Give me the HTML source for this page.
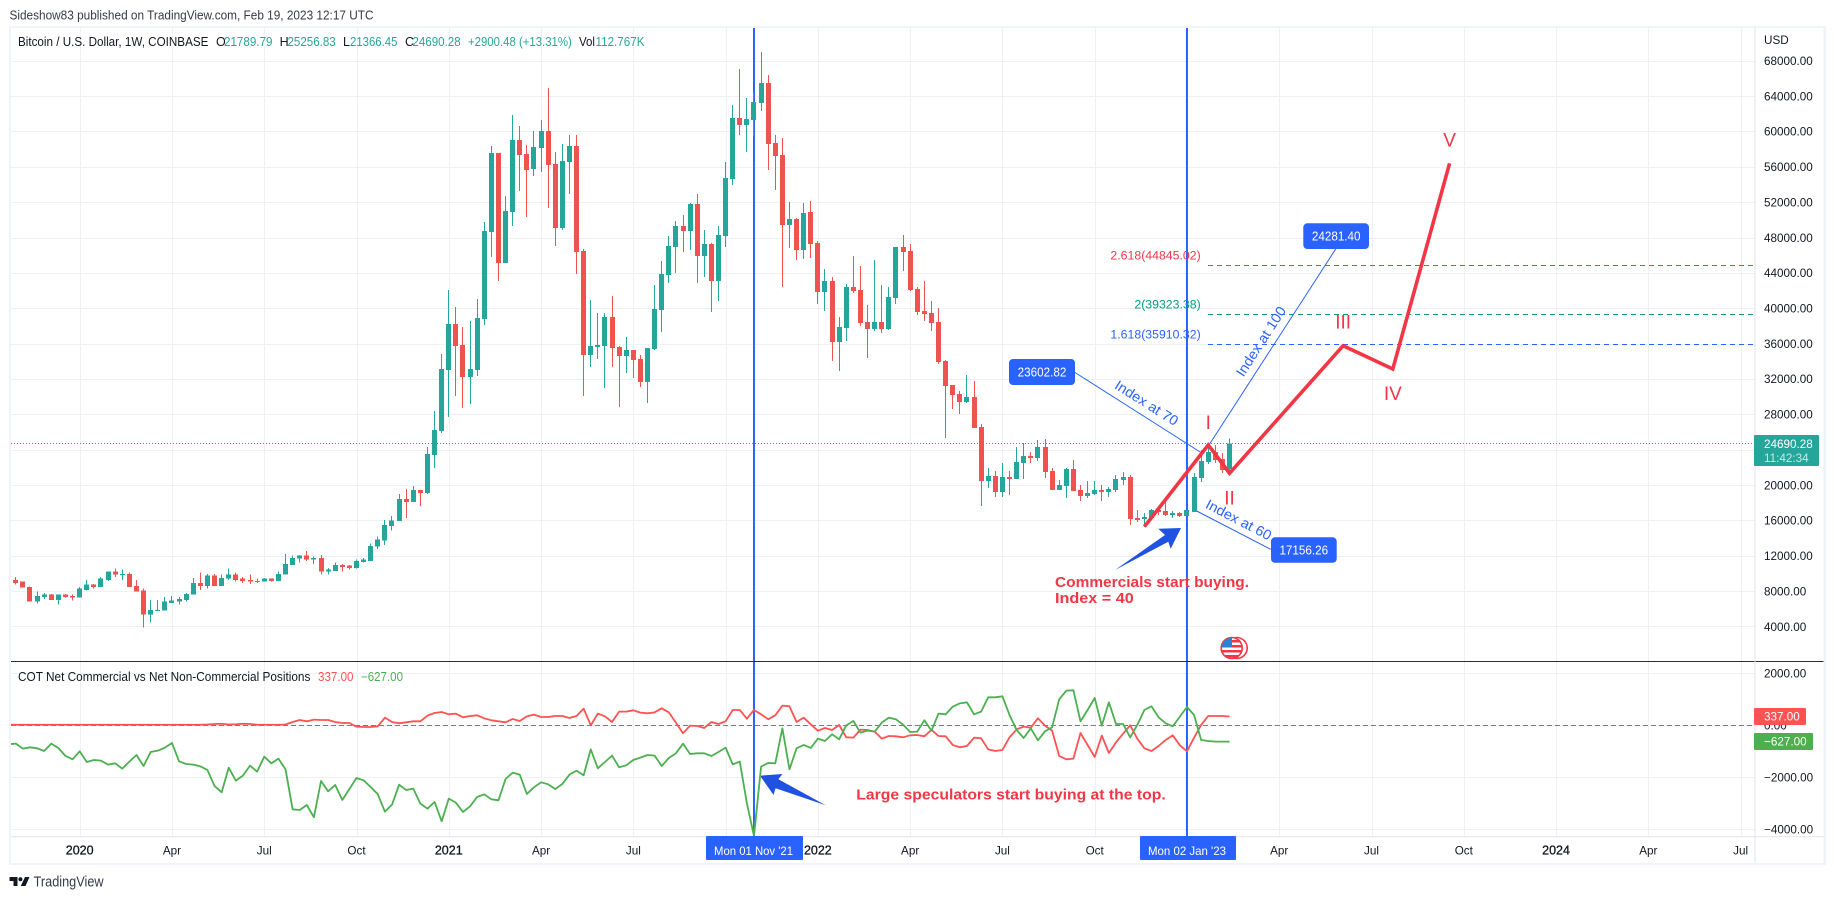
<!DOCTYPE html>
<html lang="en">
<head>
<meta charset="utf-8">
<title>Bitcoin / U.S. Dollar weekly chart</title>
<style>
html,body{margin:0;padding:0;background:#fff;}
svg{display:block;}
text{font-family:"Liberation Sans",sans-serif;}
</style>
</head>
<body>
<svg id="chart" xmlns="http://www.w3.org/2000/svg" width="1834" height="899" viewBox="0 0 1834 899">
  <defs>
    <clipPath id="priceClip"><rect x="11" y="28" width="1744" height="633"/></clipPath>
    <clipPath id="lowerClip"><rect x="11" y="662" width="1744" height="174.5"/></clipPath>
    <clipPath id="flagClip"><circle cx="1231.7" cy="648" r="10.2"/></clipPath>
  </defs>
  <text x="9.5" y="19.5" font-size="13" fill="#363a45" textLength="364" lengthAdjust="spacingAndGlyphs">Sideshow83 published on TradingView.com, Feb 19, 2023 12:17 UTC</text>
  <rect x="9" y="26" width="1817" height="839" fill="#f0f3fa"/>
  <rect x="11" y="28" width="1812.5" height="835" fill="#ffffff"/>
  <g id="grid"></g>
  <line id="lastPriceLine" x1="11" x2="1755" stroke="#26a69a" stroke-width="1" stroke-dasharray="1 2"/>
  <line x1="11" x2="1755" y1="725.5" y2="725.5" stroke="#787b86" stroke-width="1" stroke-dasharray="5 3"/>
  <g id="vlines"></g>
  <g id="candles" clip-path="url(#priceClip)"></g>
  <g id="fibs"></g>

  <line x1="1075" y1="372.5" x2="1201.7" y2="453" stroke="#2962ff" stroke-width="1"/>
  <line x1="1335.7" y1="249" x2="1209" y2="445" stroke="#2962ff" stroke-width="1"/>
  <line x1="1270.7" y1="549.3" x2="1196.7" y2="511" stroke="#2962ff" stroke-width="1"/>
  <text transform="translate(1144 407) rotate(32.3)" text-anchor="middle" font-size="14" fill="#2962ff" textLength="72" lengthAdjust="spacingAndGlyphs">Index at 70</text>
  <text transform="translate(1265 344) rotate(-57.2)" text-anchor="middle" font-size="14" fill="#2962ff" textLength="80" lengthAdjust="spacingAndGlyphs">Index at 100</text>
  <text transform="translate(1236.5 524) rotate(27.4)" text-anchor="middle" font-size="14" fill="#2962ff" textLength="72" lengthAdjust="spacingAndGlyphs">Index at 60</text>

  <g>
    <rect x="1009" y="359" width="66" height="26" rx="4" fill="#2962ff"/>
    <text x="1042" y="376.5" text-anchor="middle" font-size="12.5" fill="#fff" textLength="48.7" lengthAdjust="spacingAndGlyphs">23602.82</text>
  </g>
  <g>
    <rect x="1303.3" y="223.3" width="65.7" height="25.7" rx="4" fill="#2962ff"/>
    <text x="1336.2" y="240.5" text-anchor="middle" font-size="12.5" fill="#fff" textLength="48.7" lengthAdjust="spacingAndGlyphs">24281.40</text>
  </g>
  <g>
    <rect x="1271" y="537.3" width="65.7" height="25.5" rx="4" fill="#2962ff"/>
    <text x="1303.8" y="554.5" text-anchor="middle" font-size="12.5" fill="#fff" textLength="48.7" lengthAdjust="spacingAndGlyphs">17156.26</text>
  </g>

  <polygon points="1115,570 1165,535 1158.3,528.7 1181,528 1170.7,548.7 1168.3,541.7" fill="#1f52e0"/>
  <polygon points="760,775.7 782.4,774 778.4,779.3 825.7,805.3 775.5,788.3 773.5,795" fill="#1f52e0"/>

  <polyline id="waveLine" fill="none" stroke="#f23645" stroke-width="3.6" stroke-linejoin="miter"/>
  <g id="waveLabels"></g>

  <text x="1055" y="587" font-size="14.5" font-weight="bold" fill="#f23645" textLength="194" lengthAdjust="spacingAndGlyphs">Commercials start buying.</text>
  <text x="1055" y="603" font-size="14.5" font-weight="bold" fill="#f23645" textLength="78.7" lengthAdjust="spacingAndGlyphs">Index = 40</text>
  <text x="856.3" y="799.5" font-size="14.5" font-weight="bold" fill="#f23645" textLength="309.4" lengthAdjust="spacingAndGlyphs">Large speculators start buying at the top.</text>

  <g>
    <circle cx="1236.7" cy="648" r="10.5" fill="#fff" stroke="#f23645" stroke-width="1.6"/>
    <circle cx="1231.7" cy="648" r="10.5" fill="#fff" stroke="#f23645" stroke-width="1.6"/>
    <g clip-path="url(#flagClip)">
      <rect x="1221" y="640" width="22" height="2.5" fill="#f23645"/>
      <rect x="1221" y="645" width="22" height="2.5" fill="#f23645"/>
      <rect x="1221" y="650" width="22" height="2.5" fill="#f23645"/>
      <rect x="1221" y="655" width="22" height="2.5" fill="#f23645"/>
      <rect x="1221" y="637" width="11" height="10" fill="#2f7fd8"/>
    </g>
  </g>

  <g id="lowerSeries" clip-path="url(#lowerClip)"></g>

  <line x1="11" x2="1823.5" y1="661.5" y2="661.5" stroke="#2a2e39" stroke-width="1"/>
  <line x1="1755" x2="1755" y1="28" y2="863" stroke="#e0e3eb" stroke-width="1"/>
  <line x1="11" x2="1823.5" y1="836.8" y2="836.8" stroke="#e0e3eb" stroke-width="1"/>

  <g id="axes"></g>

  <text x="1764" y="44" font-size="11.7" fill="#131722">USD</text>

  <g>
    <rect x="1754" y="435" width="65" height="31" rx="1" fill="#26a69a"/>
    <text x="1764" y="448" font-size="11.7" fill="#fff">24690.28</text>
    <text x="1764" y="462" font-size="11.7" fill="#fff" fill-opacity="0.75">11:42:34</text>
  </g>
  <g>
    <rect x="1754" y="708" width="52" height="17" rx="1" fill="#ff5252"/>
    <text x="1764" y="720.7" font-size="11.7" fill="#fff">337.00</text>
  </g>
  <g>
    <rect x="1754" y="733" width="59" height="17" rx="1" fill="#4caf50"/>
    <text x="1764" y="745.7" font-size="11.7" fill="#fff">−627.00</text>
  </g>

  <g>
    <rect x="706" y="836" width="97" height="24" rx="1" fill="#2962ff"/>
    <text x="714" y="855" font-size="12" fill="#fff" textLength="79" lengthAdjust="spacingAndGlyphs">Mon 01 Nov '21</text>
  </g>
  <g>
    <rect x="1140" y="836" width="96" height="24" rx="1" fill="#2962ff"/>
    <text x="1148" y="855" font-size="12" fill="#fff" textLength="78" lengthAdjust="spacingAndGlyphs">Mon 02 Jan '23</text>
  </g>

  <g font-size="12.5">
    <text x="18" y="46" fill="#131722" textLength="190.4" lengthAdjust="spacingAndGlyphs">Bitcoin / U.S. Dollar, 1W, COINBASE</text>
    <text x="216" y="46" fill="#131722">O</text>
    <text x="224" y="46" fill="#26a69a" textLength="48.5" lengthAdjust="spacingAndGlyphs">21789.79</text>
    <text x="279.6" y="46" fill="#131722">H</text>
    <text x="287.5" y="46" fill="#26a69a" textLength="48.2" lengthAdjust="spacingAndGlyphs">25256.83</text>
    <text x="343" y="46" fill="#131722">L</text>
    <text x="350" y="46" fill="#26a69a" textLength="47.4" lengthAdjust="spacingAndGlyphs">21366.45</text>
    <text x="405" y="46" fill="#131722">C</text>
    <text x="412.4" y="46" fill="#26a69a" textLength="48.3" lengthAdjust="spacingAndGlyphs">24690.28</text>
    <text x="468" y="46" fill="#26a69a" textLength="103.8" lengthAdjust="spacingAndGlyphs">+2900.48 (+13.31%)</text>
    <text x="579" y="46" fill="#131722" textLength="16" lengthAdjust="spacingAndGlyphs">Vol</text>
    <text x="595.5" y="46" fill="#26a69a" textLength="49" lengthAdjust="spacingAndGlyphs">112.767K</text>
  </g>

  <g font-size="12.5">
    <text x="18" y="681" fill="#131722" textLength="292.4" lengthAdjust="spacingAndGlyphs">COT Net Commercial vs Net Non-Commercial Positions</text>
    <text x="318" y="681" fill="#ff5252" textLength="35.5" lengthAdjust="spacingAndGlyphs">337.00</text>
    <text x="361" y="681" fill="#4caf50" textLength="42" lengthAdjust="spacingAndGlyphs">−627.00</text>
  </g>

  <g>
    <polygon points="9.5,877 17.5,877 17.5,886 13.5,886 13.5,881 9.5,881" fill="#131722"/>
    <circle cx="20.4" cy="879.2" r="2" fill="#131722"/>
    <polygon points="25,877 29.5,877 25.5,886 20.8,886" fill="#131722"/>
    <text x="33.6" y="886.5" font-size="14.5" fill="#363a45" textLength="70" lengthAdjust="spacingAndGlyphs">TradingView</text>
  </g>
</svg>
<script>
// ---- Chart data ----
const firstBarDate = '2019-10-28';

const opens = [9620,
  9280,9060,8490,6800,7360,7590,7020,7590,7470,7250,
  8150,8720,8490,9280,10190,9850,9960,8600,8040,5330,
  5780,5780,6680,6800,7020,7590,8940,8600,9740,8600,
  9400,9850,9400,9280,9170,9060,9400,9170,9850,10980,
  11660,12000,11550,11770,10190,10300,10980,10870,10640,11320,
  11430,13020,13700,15390,15930,18420,18080,19440,19100,23400,
  26110,33010,38210,35840,32220,33010,38780,48620,57560,45110,
  50880,59030,57450,55750,58120,60050,56310,49070,56540,58350,
  46470,34710,35610,35720,39000,35610,34590,35270,34250,31650,
  35380,39800,43760,46920,49300,48730,51790,45910,47260,43080,
  48170,54620,61520,60730,61290,63210,65480,58690,57330,49410,
  50090,46580,50880,47380,41830,43080,36180,37760,42400,42060,
  38440,37650,38440,37650,41160,46930,46470,42170,39690,39460,
  38440,34030,31320,30300,29390,29960,26560,20450,21020,19210,
  20910,20680,22490,23280,23060,24300,21590,19440,19890,21810,
  19440,18760,18980,19440,19210,19440,20570,20910,16270,16160,
  16270,17180,17060,16610,16840,16500,16950,20790,22600,23740,
  22940,21789.79];

const highs = [9620,
  9620,9100,8540,7930,7810,7700,7590,7700,7590,8490,
  9280,8830,9620,10190,10530,10420,10080,9280,8270,7020,
  7020,7360,7470,7360,7810,9510,10080,9960,9960,9850,
  10530,10080,9620,9850,9400,9510,9400,10190,12220,12000,
  12110,12560,11890,12110,10640,11210,11090,10980,11550,11770,
  13360,14150,16070,16520,18980,19550,19890,19440,24300,28370,
  34820,42060,40140,37870,38550,41040,49750,58350,57560,52690,
  61860,60610,58460,60050,61290,64910,57670,58580,59590,59590,
  46700,40930,39460,39460,41380,35720,36740,35270,34710,35500,
  42630,45340,48170,49870,50540,51900,52920,48850,47380,49300,
  56540,62990,67060,63780,64350,68980,66380,59590,59250,52010,
  50200,51900,52130,47600,44430,43530,39010,42740,45910,44780,
  40360,45460,42630,42400,46930,48280,47270,42400,43080,40820,
  40030,34140,31320,30640,32450,31770,26900,21930,21590,22490,
  21590,24300,24750,23740,25090,25210,21930,20570,21930,22830,
  20000,20450,20450,20000,19780,21130,21470,21130,17180,16840,
  17290,17500,18190,17060,16950,17180,21360,23960,24640,24530,
  23620,25256.83];

const lows = [9170,
  8720,8380,6800,6570,7130,7020,6460,7250,6910,7250,
  8040,8270,8490,9170,9620,9280,8490,7930,3860,4420,
  5780,5780,6680,6460,6800,7590,8150,8270,8600,8600,
  9280,9060,8940,8830,8940,9060,9060,9170,9850,10980,
  11210,11430,11090,9850,9850,10300,10190,10420,10530,11210,
  11430,12790,13240,14830,15930,16270,18080,17630,18980,21920,
  25880,27690,30070,28710,29160,32330,38100,45790,43080,45110,
  49300,53260,50320,54960,55410,51340,47040,48850,52920,43870,
  30070,33350,34250,30970,33350,28820,32670,32100,31090,29280,
  35270,37310,42850,43980,46360,46580,42850,43530,39570,40820,
  46920,53940,59590,57670,59480,62310,55630,53370,42400,46810,
  45450,45570,45680,40480,39680,34030,32900,36290,41720,38010,
  34370,37420,37200,37540,40480,44210,41950,39230,38550,37420,
  33690,25320,28600,28030,29280,26450,17630,19660,18650,18650,
  18870,20680,20680,22490,22720,20790,19440,19440,18530,19320,
  18190,18530,18870,18190,18650,19210,20000,15480,15820,15250,
  16270,16600,16500,16270,16380,16500,16950,20340,22380,22490,
  21360,21366.45];

const closes = [9170,
  8940,8380,6800,7470,7590,7020,7590,7360,7250,8270,
  8720,8490,9400,10190,9850,9960,8490,7930,5330,5890,
  5890,6800,6910,7130,7700,8940,8600,9740,8600,9510,
  9850,9280,9170,9060,9060,9400,9170,9960,11090,11770,
  12000,11550,11770,10190,10420,10980,10750,10640,11430,11550,
  13130,13810,15500,15960,18420,18080,19440,19100,23510,26220,
  33120,38210,35720,32220,33120,38890,48730,57560,45110,51000,
  59030,57330,55640,58240,60050,56200,49070,56650,58350,46360,
  34710,35720,35840,39000,35500,34590,35270,34140,31650,35500,
  39910,43870,47040,49300,48730,51790,45910,47260,43080,48280,
  54730,61520,60730,61400,63330,65480,58580,57220,49410,50090,
  46580,50770,47260,41830,43080,36180,37880,42400,41950,38330,
  37650,38440,37650,41270,46930,46360,42060,39570,39350,38330,
  33920,31200,30180,29390,29960,26450,20450,21020,19210,20910,
  20680,22600,23280,23060,24300,21470,19440,20000,21810,19320,
  18760,19100,19440,19210,19550,20680,20910,16160,16040,16380,
  17180,16950,16610,16840,16500,17180,20910,22720,23740,22830,
  21700,24690.28];

const commercialNet = [20,
  20,20,20,20,20,20,20,20,20,20,
  20,20,20,20,20,20,20,20,20,20,
  20,20,20,20,20,20,20,30,50,60,
  30,40,60,50,20,20,20,20,30,127,
  204,153,217,204,204,127,89,89,-52,-65,
  -65,-39,294,127,76,115,153,153,371,474,
  512,422,448,307,358,384,269,192,153,115,
  243,166,345,410,320,320,358,358,281,358,
  640,-1,448,345,127,525,525,576,486,461,
  499,653,499,102,-308,-13,-26,-103,127,51,
  153,589,589,256,589,422,230,384,756,730,
  127,294,38,-206,-103,-180,12,-462,-475,-167,
  -180,-244,-514,-411,-424,-462,-385,-372,-424,-180,
  -411,-424,-757,-847,-796,-475,-501,-924,-988,-949,
  -462,-155,-52,-90,269,-13,-206,-1180,-1308,-1283,
  -296,-757,-1219,-398,-1065,-655,-321,-1,-514,-885,
  -988,-796,-565,-385,-770,-1001,-475,12,358,358,
  358,337];

const nonCommercialNet = [-730,
  -706,-898,-847,-885,-988,-706,-872,-1180,-1308,-1001,
  -1411,-1334,-1360,-1513,-1462,-1667,-1398,-1142,-1565,-1026,
  -975,-860,-680,-1385,-1488,-1513,-1578,-1719,-2334,-2578,
  -1629,-2129,-1937,-1552,-1783,-1206,-1462,-1283,-1693,-3231,
  -3257,-3065,-3539,-2142,-2539,-2296,-2872,-2449,-2026,-2116,
  -2372,-2654,-3321,-3052,-2283,-2488,-2437,-3013,-3206,-2949,
  -3693,-2821,-2975,-3334,-3116,-2757,-2654,-2847,-2885,-2065,
  -1821,-1898,-2642,-2385,-2193,-2270,-2449,-2257,-1898,-1744,
  -1924,-924,-1655,-1411,-1167,-1616,-1539,-1334,-1244,-1142,
  -1167,-1565,-1257,-1078,-706,-1103,-1078,-1078,-1180,-1026,
  -860,-1501,-1398,-3001,-4257,-1590,-1449,-1462,-116,-1693,
  -885,-757,-872,-514,-603,-347,-539,-1,166,-283,
  -206,-244,102,294,230,25,-257,-244,192,-206,
  448,422,717,845,884,422,525,1076,1076,1115,
  397,-180,-488,-116,-578,-231,-78,999,1333,1345,
  153,589,1050,-13,884,51,51,-462,12,589,
  730,307,76,-39,333,704,397,-565,-603,-627,
  -627,-627];

const priceTicks = [68000,64000,60000,56000,52000,48000,44000,40000,36000,32000,28000,24000,20000,16000,12000,8000,4000];
const lowerTicks = [2000,0,-2000,-4000];
const lowerTickLabels = ['2000.00','0.00','−2000.00','−4000.00'];
const timeTickDates = ['2020-01-06','2020-04-06','2020-07-06','2020-10-05','2021-01-04','2021-04-05','2021-07-05','2021-10-04','2022-01-03','2022-04-04','2022-07-04','2022-10-03','2023-01-02','2023-04-03','2023-07-03','2023-10-02','2024-01-01','2024-04-01','2024-07-01'];
const timeTickLabels = ['2020','Apr','Jul','Oct','2021','Apr','Jul','','2022','Apr','Jul','Oct','','Apr','Jul','Oct','2024','Apr','Jul'];
const markerDates = ['2021-11-01','2023-01-02'];
const lastPrice = 24690.28;

const fibLabels = ['2.618(44845.02)','2(39323.38)','1.618(35910.32)'];
const fibPrices = [44845.02,39323.38,35910.32];
const fibColors = ['#f23645','#089981','#2962ff'];

const waveNames = ['','I','II','III','IV','V'];
const waveDates = ['2022-11-21','2023-01-23','2023-02-13','2023-06-05','2023-07-24','2023-09-18'];
const wavePrices = [15290,24530,21330,35760,33130,56390];

// ---- Axis functions ----
const SVGNS = 'http://www.w3.org/2000/svg';
function weekOf(dateStr){ return Math.round((Date.parse(dateStr) - Date.parse(firstBarDate)) / 604800000); }
function xOfBar(i){ return 8.7 + 7.098 * i; }
function xOfDate(d){ return xOfBar(weekOf(d)); }
function yOfPrice(p){ return 414.3 + (28000 - p) * 0.00884; }
function yOfLower(v){ return 725.3 - v * 0.026; }
function mk(tag, attrs, parent){
  const el = document.createElementNS(SVGNS, tag);
  for (const k in attrs) el.setAttribute(k, attrs[k]);
  parent.appendChild(el);
  return el;
}

const grid = document.getElementById('grid');
const axes = document.getElementById('axes');
const gridColor = '#eff0f4';

// Horizontal grid + price tick labels
priceTicks.forEach(function(v){
  const y = Math.round(yOfPrice(v)) + 0.5;
  const gl = mk('line', {x1:11, x2:1755, y1:y, y2:y, stroke:gridColor, 'stroke-width':1}, grid);
  
  
  const t = mk('text', {x:1764, y:yOfPrice(v)+4.3, 'font-size':11.7, fill:'#131722'}, axes);
  
  
  t.textContent = v.toFixed(2);
});

// Lower pane grid + tick labels
lowerTicks.forEach(function(v, i){
  const y = Math.round(yOfLower(v)) + 0.5;
  const gl = mk('line', {x1:11, x2:1755, y1:y, y2:y, stroke:gridColor, 'stroke-width':1}, grid);
  
  
  const t = mk('text', {x:1764, y:yOfLower(v)+4.3, 'font-size':11.7, fill:'#131722'}, axes);
  
  
  t.textContent = lowerTickLabels[i];
});

// Vertical grid + time labels
timeTickDates.forEach(function(d, i){
  const x = Math.round(xOfDate(d)) + 0.5;
  const gl = mk('line', {x1:x, x2:x, y1:28, y2:836, stroke:gridColor, 'stroke-width':1}, grid);
  
  
  const label = timeTickLabels[i];
  if (label) {
    const isYear = /^\d+$/.test(label);
    const t = mk('text', {x:xOfDate(d), y:854.5, 'text-anchor':'middle', 'font-size':isYear ? 12.5 : 11.7, fill:'#131722'}, axes);
    if (isYear) { t.setAttribute('stroke', '#131722'); t.setAttribute('stroke-width', '0.3'); }
    
    
    t.textContent = label;
  }
});

// Last price line
const lp = document.getElementById('lastPriceLine');
lp.setAttribute('y1', yOfPrice(lastPrice));
lp.setAttribute('y2', yOfPrice(lastPrice));

// Blue vertical date markers
const vlines = document.getElementById('vlines');
markerDates.forEach(function(d){
  const x = xOfDate(d);
  const l = mk('line', {x1:x, x2:x, y1:28, y2:836.5, stroke:'#2962ff', 'stroke-width':2}, vlines);
  
  
});

// Candles
const candleGroup = document.getElementById('candles');
opens.forEach(function(o, i){
  const c = closes[i], up = c >= o, col = up ? '#26a69a' : '#ef5350';
  const xc = xOfBar(i);
  const top = yOfPrice(Math.max(o, c)), bot = yOfPrice(Math.min(o, c));
  const g = mk('g', {'shape-rendering':'crispEdges', fill:col}, candleGroup);
  
  
  const hi = yOfPrice(highs[i]), lo = yOfPrice(lows[i]);
  const wick = mk('rect', {x:Math.round(xc - 0.5), y:hi, width:1, height:Math.max(lo - hi, 1)}, g);
  
  
  const body = mk('rect', {x:Math.round(xc - 2.5), y:top, width:5, height:Math.max(bot - top, 1)}, g);
  
  
});

// COT lines
const lowerGroup = document.getElementById('lowerSeries');
function linePoints(values){
  return values.map(function(v, i){ return xOfBar(i).toFixed(2) + ',' + yOfLower(v).toFixed(2); }).join(' ');
}
const commLine = mk('polyline', {points:linePoints(commercialNet), fill:'none', stroke:'#ff5252', 'stroke-width':1.8, 'stroke-linejoin':'round'}, lowerGroup);


const nonCommLine = mk('polyline', {points:linePoints(nonCommercialNet), fill:'none', stroke:'#4caf50', 'stroke-width':1.8, 'stroke-linejoin':'round'}, lowerGroup);



// Fibonacci levels
const fibs = document.getElementById('fibs');
fibPrices.forEach(function(p, i){
  const y = Math.round(yOfPrice(p)) + 0.5;
  const l = mk('line', {x1:1208, x2:1755, y1:y, y2:y, stroke:fibColors[i], 'stroke-width':1, 'stroke-dasharray':'5 4'}, fibs);
  
  
  const t = mk('text', {x:1200.7, y:y - 5.8, 'text-anchor':'end', 'font-size':12.3, fill:fibColors[i]}, fibs);
  
  
  t.textContent = fibLabels[i];
});

// Elliott wave projection
document.getElementById('waveLine').setAttribute('points', waveDates.map(function(d, i){
  return xOfDate(d).toFixed(2) + ',' + yOfPrice(wavePrices[i]).toFixed(2);
}).join(' '));
const waveLabels = document.getElementById('waveLabels');
const waveOffsets = [0,-23,24,-24,24,-24];
waveNames.forEach(function(name, i){
  if (!name) return;
  const t = mk('text', {x:xOfDate(waveDates[i]), y:yOfPrice(wavePrices[i]) + waveOffsets[i] + 7, 'text-anchor':'middle', 'font-size':19, fill:'#f23645'}, waveLabels);
  
  
  t.textContent = name;
});
</script>
</body>
</html>
